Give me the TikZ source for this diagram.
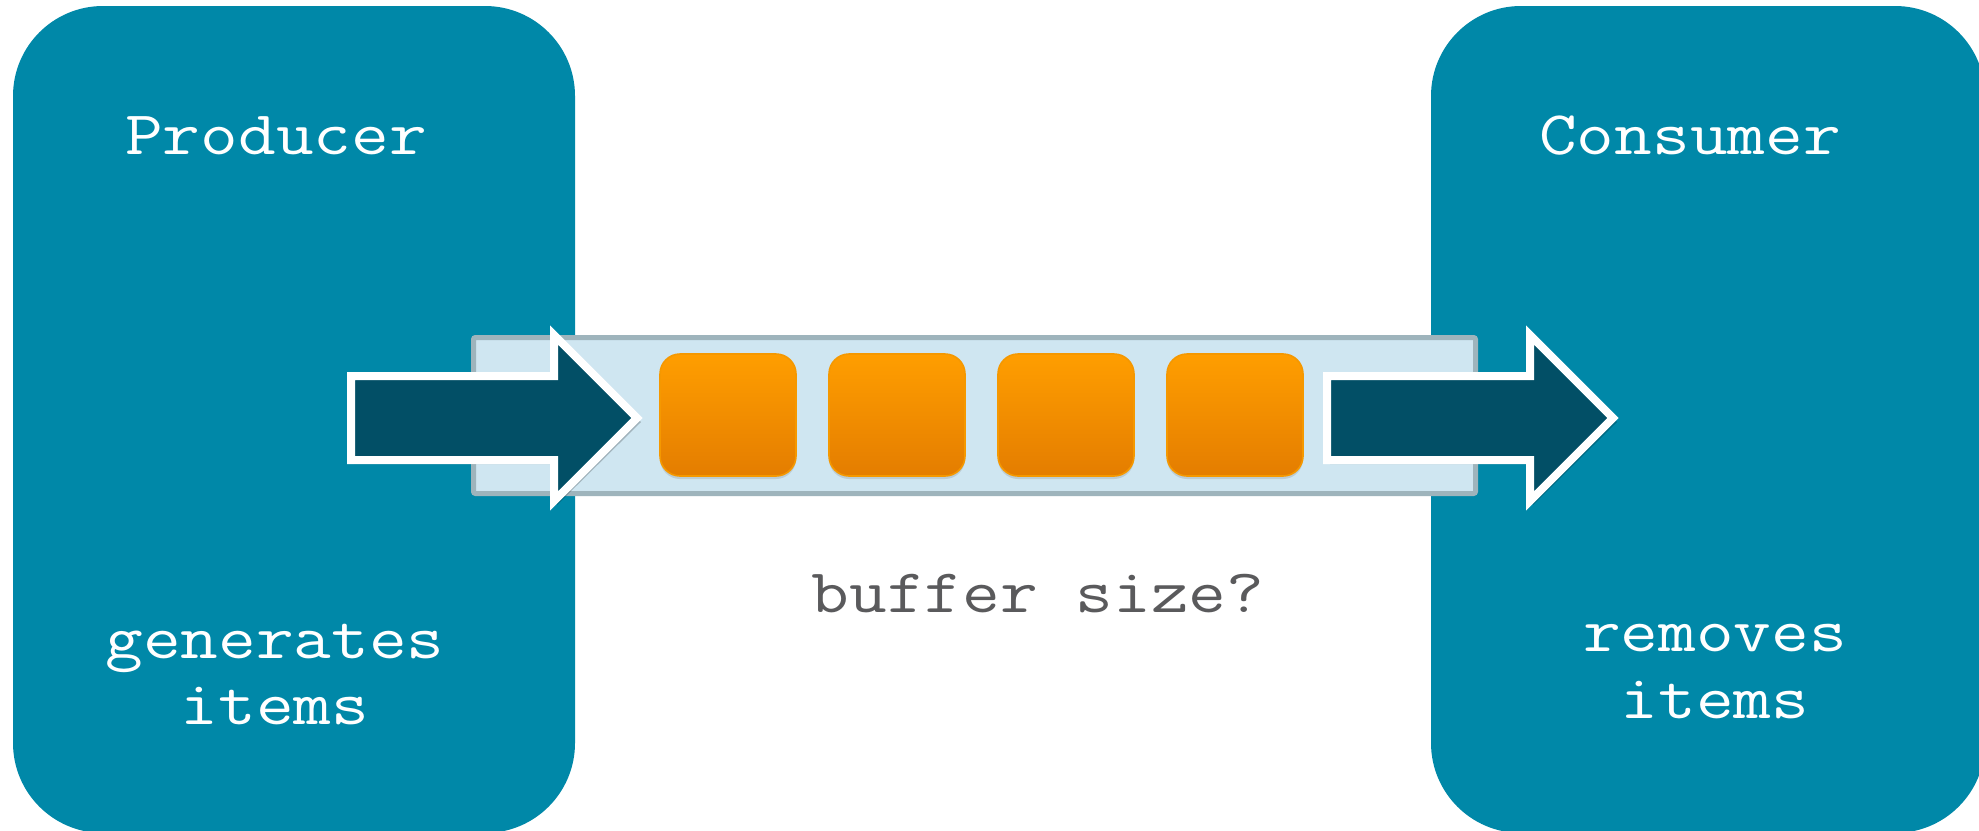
\documentclass[tikz,border=0pt]{standalone}
\usepackage{fontspec}
\newfontfamily\courfont[FakeStretch=1.18]{Latin Modern Mono}
\usetikzlibrary{shadows}
\definecolor{boxteal}{HTML}{0088A8}
\definecolor{arrowdark}{HTML}{024F66}
\definecolor{buffill}{HTML}{CFE6F1}
\definecolor{bufline}{HTML}{9EB4BC}
\definecolor{orangetop}{HTML}{FF9E00}
\definecolor{orangebot}{HTML}{E47D00}
\definecolor{orangerim}{HTML}{F59800}
\definecolor{txtgray}{HTML}{5A5A5C}
\tikzset{
  rolebox/.style={fill=boxteal, rounded corners=45pt, inner sep=0pt},
  bufbox/.style={fill=buffill, draw=bufline, line width=2.5pt, rounded corners=1pt, inner sep=0pt,
    minimum width=501pt, minimum height=78pt},
  itembox/.style={top color=orangetop, bottom color=orangebot, draw=orangerim, line width=0.8pt,
    rounded corners=10pt, inner sep=0pt, minimum width=68pt, minimum height=61pt,
    drop shadow={opacity=0.25, shadow xshift=0pt, shadow yshift=-1.5pt}},
  bigarrow/.style={fill=arrowdark, draw=white, line width=4pt, line join=miter},
  arrowshadow/.style={fill=black, opacity=0.22},
  lbl/.style={font=\courfont\fontsize{31}{36}\selectfont, text=white, inner sep=0pt, anchor=base},
  graylbl/.style={font=\courfont\fontsize{31}{36}\selectfont, text=txtgray, inner sep=0pt, anchor=base}
}
\begin{document}
\begin{tikzpicture}[x=0.5pt,y=-0.5pt]
\useasboundingbox (0,0) rectangle (1979,830);
\clip (0,0) rectangle (1979,830);
\fill[white] (0,0) rectangle (1979,830);
% role boxes
\node[rolebox, minimum width=281pt, minimum height=413.5pt] (prod) at (294,419.5) {};
\node[rolebox, minimum width=277pt, minimum height=413.5pt] (cons) at (1708,419.5) {};
% buffer
\node[bufbox] (buf) at (974.5,415.5) {};
% items
\foreach \i in {0,1,2,3}{
  \node[itembox] (q\i) at ({728+169*\i},415) {};
}
% arrows
\fill[arrowshadow] (354,380) -- (557,380) -- (557,339) -- (641,422) -- (557,505) -- (557,464) -- (354,464) -- cycle;
\draw[bigarrow] (351,376) -- (554,376) -- (554,335) -- (637,418) -- (554,501) -- (554,460) -- (351,460) -- cycle;
\fill[arrowshadow] (1330,380) -- (1533,380) -- (1533,339) -- (1617,422) -- (1533,505) -- (1533,464) -- (1330,464) -- cycle;
\draw[bigarrow] (1327,376) -- (1530,376) -- (1530,335) -- (1613,418) -- (1530,501) -- (1530,460) -- (1327,460) -- cycle;
% labels
\node[lbl] (prodname) at (276,154) {Producer};
\node[lbl] (prodact1) at (275,658) {generates};
\node[lbl] (prodact2) at (275,724) {items};
\node[lbl] (consname) at (1690,154) {Consumer};
\node[lbl] (consact1) at (1715,651) {removes};
\node[lbl] (consact2) at (1715,718) {items};
\node[graylbl] (bufq) at (1038,612) {buffer size?};
\end{tikzpicture}
\end{document}
